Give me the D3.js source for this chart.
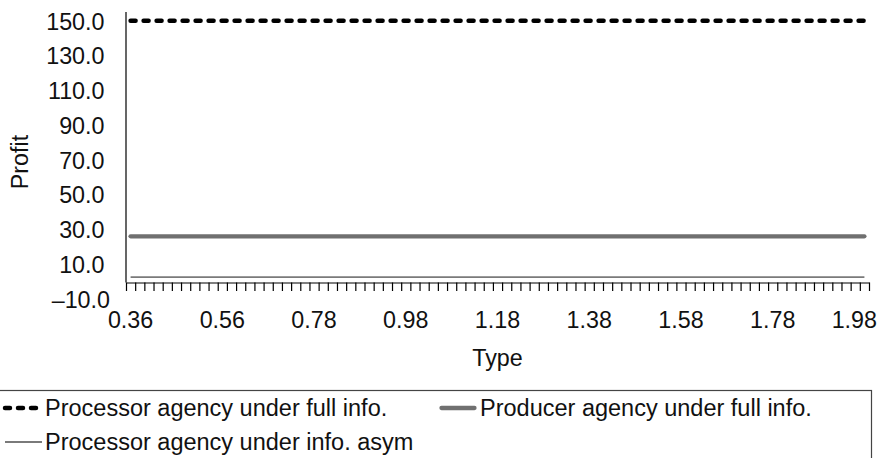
<!DOCTYPE html>
<html>
<head>
<meta charset="utf-8">
<script src="https://cdn.jsdelivr.net/npm/d3@7"></script>
<style>
  html, body { margin: 0; padding: 0; background: #fff; }
  svg { display: block; font-family: "Liberation Sans", Arial, sans-serif; }
</style>
</head>
<body>
<svg id="chart" width="879" height="458"></svg>
<script>
// Number of producer types on the category axis, labelled every tenth type
const typeCount = 81;
const typeTickEvery = 10;
const typeTickLabels = ["0.36", "0.56", "0.78", "0.98", "1.18", "1.38", "1.58", "1.78", "1.98"];

// Profit ticks on the value axis
const profitTicks = [-10, 10, 30, 50, 70, 90, 110, 130, 150];

// Profit for each type
const processorFullInfo = [
  150, 150, 150, 150, 150, 150, 150, 150, 150, 150, 150, 150, 150, 150, 150, 150, 150, 150, 150, 150,
  150, 150, 150, 150, 150, 150, 150, 150, 150, 150, 150, 150, 150, 150, 150, 150, 150, 150, 150, 150,
  150, 150, 150, 150, 150, 150, 150, 150, 150, 150, 150, 150, 150, 150, 150, 150, 150, 150, 150, 150,
  150, 150, 150, 150, 150, 150, 150, 150, 150, 150, 150, 150, 150, 150, 150, 150, 150, 150, 150, 150,
  150
];
const producerFullInfo = [
  26, 26, 26, 26, 26, 26, 26, 26, 26, 26, 26, 26, 26, 26, 26, 26, 26, 26, 26, 26,
  26, 26, 26, 26, 26, 26, 26, 26, 26, 26, 26, 26, 26, 26, 26, 26, 26, 26, 26, 26,
  26, 26, 26, 26, 26, 26, 26, 26, 26, 26, 26, 26, 26, 26, 26, 26, 26, 26, 26, 26,
  26, 26, 26, 26, 26, 26, 26, 26, 26, 26, 26, 26, 26, 26, 26, 26, 26, 26, 26, 26,
  26
];
const processorInfoAsym = [
  2.5, 2.5, 2.5, 2.5, 2.5, 2.5, 2.5, 2.5, 2.5, 2.5, 2.5, 2.5, 2.5, 2.5, 2.5, 2.5, 2.5, 2.5, 2.5, 2.5,
  2.5, 2.5, 2.5, 2.5, 2.5, 2.5, 2.5, 2.5, 2.5, 2.5, 2.5, 2.5, 2.5, 2.5, 2.5, 2.5, 2.5, 2.5, 2.5, 2.5,
  2.5, 2.5, 2.5, 2.5, 2.5, 2.5, 2.5, 2.5, 2.5, 2.5, 2.5, 2.5, 2.5, 2.5, 2.5, 2.5, 2.5, 2.5, 2.5, 2.5,
  2.5, 2.5, 2.5, 2.5, 2.5, 2.5, 2.5, 2.5, 2.5, 2.5, 2.5, 2.5, 2.5, 2.5, 2.5, 2.5, 2.5, 2.5, 2.5, 2.5,
  2.5
];

const seriesNames = [
  "Processor agency under full info.",
  "Producer agency under full info.",
  "Processor agency under info. asym"
];

const svg = d3.select("#chart");

const axisFont = 23.3;
const legendFont = 23.5;

const plotLeft = 126, plotRight = 869;
const typeIndex = d3.range(typeCount);

// Category scale (one band per type) and its boundary scale for the tick marks
const x = d3.scaleBand().domain(typeIndex).range([plotLeft, plotRight]).paddingInner(0).paddingOuter(0);
const xEdge = d3.scaleLinear().domain([0, typeCount]).range([plotLeft, plotRight]);
const xc = i => x(i) + x.bandwidth() / 2;

const y = d3.scaleLinear().domain([-10, 155]).range([298.9, 12]);
const y0 = Math.round(y(0)) + 0.5;

// Value axis line (drawn down to where the category axis crosses)
svg.append("line")
  .attr("x1", plotLeft).attr("x2", plotLeft)
  .attr("y1", y(155)).attr("y2", y0)
  .attr("stroke", "#000").attr("stroke-width", 1.2);

// Value axis labels
const yAxis = d3.axisLeft(y).tickValues(profitTicks).tickSize(0).tickPadding(0)
  .tickFormat(d => (d < 0 ? "\u2013" : "") + Math.abs(d).toFixed(1));
const gy = svg.append("g").attr("transform", "translate(104.5,0)").call(yAxis);
gy.select(".domain").remove();
gy.selectAll("text")
  .attr("font-size", axisFont).attr("fill", "#111").attr("font-family", "Liberation Sans, Arial, sans-serif")
  .attr("x", d => d < 0 ? 5.5 : 0)
  .attr("dy", "0.36em");

// Category axis: line plus a tick mark on every type boundary
const xTickAxis = d3.axisBottom(xEdge).tickValues(d3.range(typeCount + 1)).tickFormat("").tickSizeInner(8.5).tickSizeOuter(0);
const gx = svg.append("g").attr("transform", `translate(0,${y0})`).call(xTickAxis);
gx.select(".domain").attr("stroke", "#000").attr("stroke-width", 1.2);
gx.selectAll(".tick line").attr("stroke", "#000").attr("stroke-width", 1.2);

// Category labels, centred on every tenth type
const xLabelAxis = d3.axisBottom(x)
  .tickValues(typeIndex.filter(i => i % typeTickEvery === 0))
  .tickFormat(i => typeTickLabels[i / typeTickEvery])
  .tickSize(0).tickPadding(0);
const gxl = svg.append("g").attr("transform", `translate(0,${y0})`).call(xLabelAxis);
gxl.select(".domain").remove();
gxl.selectAll("text")
  .attr("font-size", axisFont).attr("fill", "#111").attr("font-family", "Liberation Sans, Arial, sans-serif")
  .attr("y", 45.5).attr("dy", 0)
  .each(function () {
    // keep the last label inside the page
    const t = d3.select(this);
    const tick = d3.select(this.parentNode);
    const m = /translate\(([-\d.]+)/.exec(tick.attr("transform"));
    const cx = m ? +m[1] : 0;
    const w = this.getComputedTextLength();
    const over = cx + w / 2 - 877;
    if (over > 0) t.attr("x", -over);
  });

// Axis titles
svg.append("text")
  .attr("x", (plotLeft + plotRight) / 2).attr("y", 365.5)
  .attr("text-anchor", "middle").attr("font-size", axisFont).attr("fill", "#111")
  .text("Type");
svg.append("text")
  .attr("transform", "translate(27.5,162) rotate(-90)")
  .attr("text-anchor", "middle").attr("font-size", axisFont).attr("fill", "#111")
  .text("Profit");

// Series lines
const line = d3.line().x((d, i) => xc(i)).y(d => y(d));

const styles = [
  { stroke: "#000", width: 4.5, dash: "5 8", cap: "round" },
  { stroke: "#707070", width: 4.3, dash: null, cap: "round" },
  { stroke: "#7a7a7a", width: 1.8, dash: null, cap: "butt" }
];
const seriesData = [processorFullInfo, producerFullInfo, processorInfoAsym];

seriesData.forEach((data, k) => {
  const s = styles[k];
  svg.append("path")
    .datum(data)
    .attr("d", line)
    .attr("fill", "none")
    .attr("stroke", s.stroke)
    .attr("stroke-width", s.width)
    .attr("stroke-linecap", s.cap)
    .attr("stroke-dasharray", s.dash);
});

// Legend
const legend = svg.append("g");
legend.append("rect")
  .attr("x", -2).attr("y", 390.5).attr("width", 873.5).attr("height", 90)
  .attr("fill", "#fff").attr("stroke", "#444").attr("stroke-width", 1.2);

const legendItems = [
  { x: 5, y: 408, len: 37, text: 45 },
  { x: 441.5, y: 408, len: 33, text: 480 },
  { x: 5, y: 442, len: 37, text: 45 }
];
legendItems.forEach((p, k) => {
  const s = styles[k];
  legend.append("line")
    .attr("x1", p.x).attr("x2", p.x + p.len)
    .attr("y1", p.y).attr("y2", p.y)
    .attr("stroke", s.stroke).attr("stroke-width", s.width)
    .attr("stroke-linecap", s.cap).attr("stroke-dasharray", s.dash);
  legend.append("text")
    .attr("x", p.text).attr("y", p.y + 8)
    .attr("font-size", legendFont).attr("fill", "#111")
    .text(seriesNames[k]);
});
</script>
</body>
</html>
